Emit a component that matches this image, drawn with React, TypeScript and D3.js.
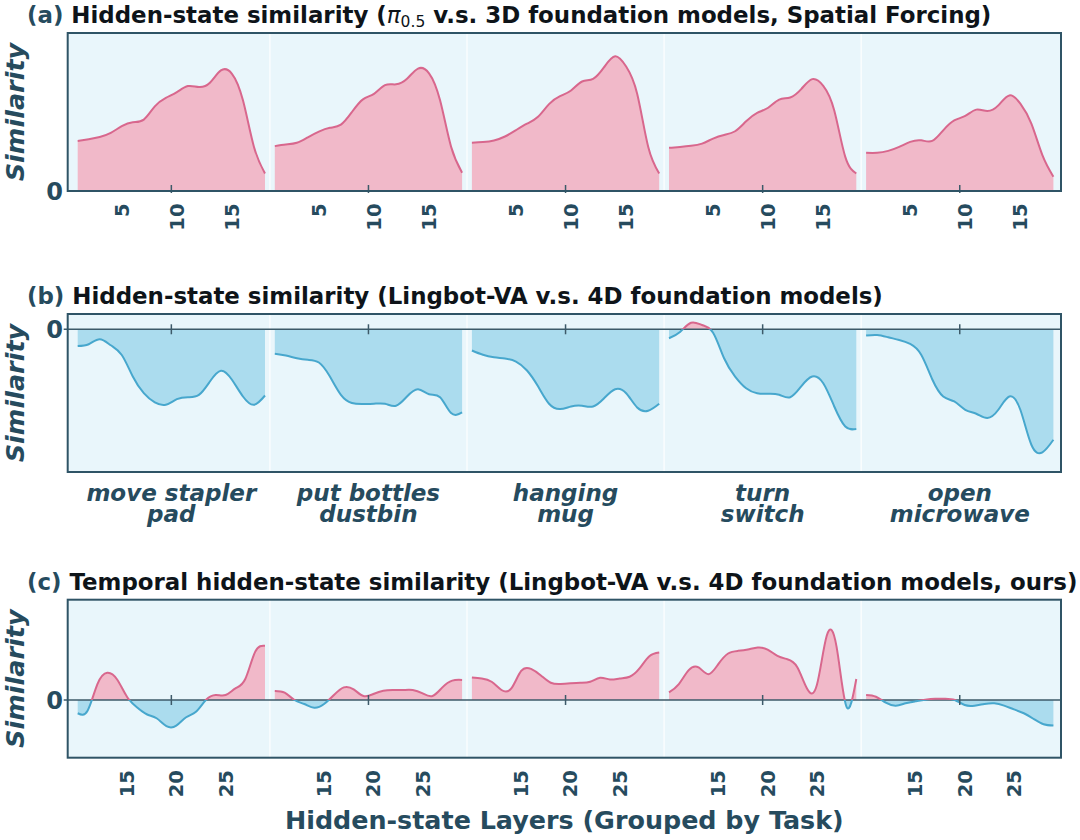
import React from "react";
import * as d3 from "d3";

// ---------- data ----------
const layersA = [1, 2, 3, 4, 5, 6, 7, 8, 9, 10, 11, 12, 13, 14, 15, 16, 17, 18];
const layersB = [1, 2, 3, 4, 5, 6, 7, 8, 9, 10, 11, 12, 13, 14, 15, 16, 17, 18];
const layersC = [10, 11, 12, 13, 14, 15, 16, 17, 18, 19, 20, 21, 22, 23, 24, 25, 26, 27, 28, 29];
const tickLayersA = [5, 10, 15];
const tickLayersC = [15, 20, 25];
const tasks = [
  ["move stapler", "pad"],
  ["put bottles", "dustbin"],
  ["hanging", "mug"],
  ["turn", "switch"],
  ["open", "microwave"],
];

// (a) pi0.5 vs 3D foundation models
const aMoveStapler = [0.317, 0.328, 0.342, 0.368, 0.41, 0.435, 0.452, 0.536, 0.59, 0.626, 0.664, 0.658, 0.685, 0.763, 0.742, 0.574, 0.279, 0.111];
const aPutBottles = [0.284, 0.294, 0.305, 0.34, 0.376, 0.4, 0.42, 0.5, 0.58, 0.615, 0.67, 0.675, 0.71, 0.775, 0.745, 0.574, 0.28, 0.116];
const aHangingMug = [0.305, 0.31, 0.32, 0.345, 0.385, 0.426, 0.47, 0.55, 0.6, 0.636, 0.693, 0.71, 0.784, 0.853, 0.788, 0.616, 0.28, 0.111];
const aTurnSwitch = [0.273, 0.279, 0.286, 0.3, 0.332, 0.355, 0.378, 0.441, 0.494, 0.527, 0.578, 0.592, 0.645, 0.708, 0.666, 0.51, 0.216, 0.111];
const aOpenMicrowave = [0.242, 0.242, 0.254, 0.279, 0.311, 0.321, 0.317, 0.384, 0.447, 0.475, 0.515, 0.506, 0.542, 0.605, 0.553, 0.426, 0.227, 0.09];

// (b) Lingbot-VA vs 4D foundation models
const bMoveStapler = [-0.117, -0.105, -0.07, -0.112, -0.18, -0.331, -0.448, -0.513, -0.529, -0.49, -0.476, -0.46, -0.366, -0.291, -0.354, -0.471, -0.529, -0.464];
const bPutBottles = [-0.172, -0.184, -0.203, -0.214, -0.233, -0.331, -0.459, -0.517, -0.524, -0.522, -0.522, -0.536, -0.471, -0.42, -0.455, -0.476, -0.587, -0.583];
const bHangingMug = [-0.149, -0.179, -0.196, -0.205, -0.226, -0.289, -0.4, -0.522, -0.559, -0.541, -0.536, -0.541, -0.483, -0.42, -0.448, -0.548, -0.571, -0.522];
const bTurnSwitch = [-0.063, -0.019, 0.046, 0.03, -0.024, -0.203, -0.331, -0.413, -0.448, -0.452, -0.459, -0.476, -0.4, -0.331, -0.378, -0.541, -0.681, -0.699];
const bOpenMicrowave = [-0.044, -0.04, -0.056, -0.075, -0.103, -0.179, -0.35, -0.471, -0.506, -0.564, -0.592, -0.622, -0.564, -0.471, -0.564, -0.809, -0.862, -0.774];

// (c) temporal similarity
const cMoveStapler = [-0.132, -0.106, 0.159, 0.272, 0.205, 0.033, -0.073, -0.142, -0.182, -0.26, -0.256, -0.172, -0.116, 0.0, 0.05, 0.05, 0.116, 0.21, 0.48, 0.54];
const cPutBottles = [0.09, 0.073, 0.0, -0.04, -0.077, -0.04, 0.05, 0.126, 0.106, 0.04, 0.06, 0.093, 0.1, 0.1, 0.1, 0.066, 0.04, 0.126, 0.193, 0.2];
const cHangingMug = [0.225, 0.215, 0.182, 0.1, 0.116, 0.29, 0.31, 0.245, 0.172, 0.159, 0.166, 0.172, 0.182, 0.222, 0.205, 0.215, 0.232, 0.315, 0.437, 0.474];
const cTurnSwitch = [0.076, 0.159, 0.298, 0.325, 0.258, 0.358, 0.464, 0.49, 0.503, 0.523, 0.503, 0.44, 0.407, 0.33, 0.115, 0.15, 0.64, 0.53, -0.066, 0.21];
const cOpenMicrowave = [0.05, 0.033, -0.026, -0.056, -0.033, -0.013, 0.003, 0.013, 0.013, 0.0, -0.05, -0.056, -0.04, -0.033, -0.056, -0.093, -0.132, -0.189, -0.242, -0.255];

const seriesA = [aMoveStapler, aPutBottles, aHangingMug, aTurnSwitch, aOpenMicrowave];
const seriesB = [bMoveStapler, bPutBottles, bHangingMug, bTurnSwitch, bOpenMicrowave];
const seriesC = [cMoveStapler, cPutBottles, cHangingMug, cTurnSwitch, cOpenMicrowave];

// ---------- style / layout ----------
const W = 1080;
const H = 840;
const FONT = "DejaVu Sans";
const SLATE = "#264b5e";
const FRAME_COLOR = "#2f5466";
const ZERO_COLOR = "#3d5a69";
const BG = "#e9f6fb";
const PINK_LINE = "#d8678d";
const PINK_FILL = "#f1b9c9";
const BLUE_LINE = "#47a7cd";
const BLUE_FILL = "#abdcee";

const FRAME_L = 67.7;
const FRAME_R = 1061;
const FILL_X0 = 77.7;
const GROUP_PITCH = 197.1;
const GROUP_SPAN = 187.3;
const FRAME_H = 158;

type PanelProps = {
  id: string;
  top: number;
  letter: string;
  title: React.ReactNode;
  series: number[][];
  layers: number[];
  yDomain: [number, number];
  layerTicks: number[] | null;
  tickIn: number;
  tickOut: number;
  showZeroLine: boolean;
  taskLabels: string[][] | null;
};

function Panel(p: PanelProps) {
  const bottom = p.top + FRAME_H;
  const y = d3.scaleLinear().domain(p.yDomain).range([bottom, p.top]);
  const y0 = y(0);
  const n = p.layers.length;
  const gap = (GROUP_PITCH - GROUP_SPAN) / 2;

  const groups = p.series.map((vals, g) => {
    const xs = d3
      .scaleLinear()
      .domain([p.layers[0], p.layers[n - 1]])
      .range([FILL_X0 + g * GROUP_PITCH, FILL_X0 + g * GROUP_PITCH + GROUP_SPAN]);
    const area = d3
      .area<number>()
      .x((_, i) => xs(p.layers[i]))
      .y0(y0)
      .y1((d) => y(d))
      .curve(d3.curveNatural);
    const line = d3
      .line<number>()
      .x((_, i) => xs(p.layers[i]))
      .y((d) => y(d))
      .curve(d3.curveNatural);
    return { xs, areaD: area(vals) || "", lineD: line(vals) || "" };
  });

  const posClip = `${p.id}-pos`;
  const negClip = `${p.id}-neg`;

  return (
    <g>
      <defs>
        <clipPath id={posClip}>
          <rect x={FRAME_L} y={p.top} width={FRAME_R - FRAME_L} height={y0 - p.top} />
        </clipPath>
        <clipPath id={negClip}>
          <rect x={FRAME_L} y={y0} width={FRAME_R - FRAME_L} height={bottom - y0} />
        </clipPath>
      </defs>
      {/* title */}
      <text x={27} y={p.top - 10} fontFamily={FONT} fontWeight="bold" fontSize={22.9} fill="#0e1419">
        <tspan fill={SLATE}>{p.letter}</tspan>
        {p.title}
      </text>
      {/* background */}
      <rect x={FRAME_L} y={p.top} width={FRAME_R - FRAME_L} height={FRAME_H} fill={BG} />
      {/* group separators */}
      {groups.slice(1).map((gr, i) => {
        const sx = gr.xs(p.layers[0]) - gap;
        return (
          <line key={`sep${i}`} x1={sx} x2={sx} y1={p.top} y2={bottom} stroke="#ffffff" strokeOpacity={0.75} strokeWidth={1.5} />
        );
      })}
      {/* fills */}
      {groups.map((gr, g) => (
        <g key={`f${g}`}>
          <path d={gr.areaD} fill={PINK_FILL} clipPath={`url(#${posClip})`} />
          <path d={gr.areaD} fill={BLUE_FILL} clipPath={`url(#${negClip})`} />
        </g>
      ))}
      {/* zero line */}
      {p.showZeroLine && (
        <line x1={FRAME_L - 4} x2={FRAME_R} y1={y0} y2={y0} stroke={ZERO_COLOR} strokeWidth={1.4} />
      )}
      {/* lines */}
      {groups.map((gr, g) => (
        <g key={`l${g}`}>
          <path d={gr.lineD} fill="none" stroke={PINK_LINE} strokeWidth={2} clipPath={`url(#${posClip})`} />
          <path d={gr.lineD} fill="none" stroke={BLUE_LINE} strokeWidth={2} clipPath={`url(#${negClip})`} />
        </g>
      ))}
      {/* group center ticks */}
      {groups.map((gr, g) => {
        const cx = gr.xs((p.layers[0] + p.layers[n - 1]) / 2);
        return (
          <line key={`t${g}`} x1={cx} x2={cx} y1={y0 - p.tickIn} y2={y0 + p.tickOut} stroke={ZERO_COLOR} strokeWidth={1.5} />
        );
      })}
      {/* frame */}
      <rect x={FRAME_L} y={p.top} width={FRAME_R - FRAME_L} height={FRAME_H} fill="none" stroke={FRAME_COLOR} strokeWidth={2} />
      {/* y tick label */}
      <text x={63} y={y0} dy="0.36em" textAnchor="end" fontFamily={FONT} fontWeight="bold" fontSize={24} fill={SLATE}>
        0
      </text>
      {/* y label */}
      <text
        transform={`translate(24,${p.top + FRAME_H / 2}) rotate(-90)`}
        textAnchor="middle"
        fontFamily={FONT}
        fontWeight="bold"
        fontStyle="italic"
        fontSize={25.5}
        fill={SLATE}
      >
        Similarity
      </text>
      {/* layer tick labels */}
      {p.layerTicks &&
        groups.map((gr, g) =>
          p.layerTicks!.map((t) => (
            <text
              key={`lt${g}-${t}`}
              transform={`translate(${gr.xs(t) + 7},${bottom + 12.5}) rotate(-90)`}
              textAnchor="end"
              fontFamily={FONT}
              fontWeight="bold"
              fontSize={19.5}
              fill={SLATE}
            >
              {t}
            </text>
          ))
        )}
      {/* task labels */}
      {p.taskLabels &&
        groups.map((gr, g) => {
          const cx = gr.xs((p.layers[0] + p.layers[n - 1]) / 2);
          return (
            <text key={`task${g}`} textAnchor="middle" fontFamily={FONT} fontWeight="bold" fontStyle="italic" fontSize={23} fill={SLATE}>
              <tspan x={cx} y={bottom + 29}>{p.taskLabels![g][0]}</tspan>
              <tspan x={cx} y={bottom + 49.5}>{p.taskLabels![g][1]}</tspan>
            </text>
          );
        })}
    </g>
  );
}

export default function App() {
  return (
    <svg
      width={W}
      height={H}
      viewBox={`0 0 ${W} ${H}`}
      style={{ display: "block", position: "absolute", left: 0, top: 0, background: "#ffffff" }}
    >
      <rect x={0} y={0} width={W} height={H} fill="#ffffff" />
      <Panel
        id="pa"
        top={33}
        letter="(a)"
        title={
          <>
            <tspan>{" Hidden-state similarity ("}</tspan>
            <tspan fontStyle="italic" fontWeight="normal">π</tspan>
            <tspan fontSize={15.5} fontWeight="normal" dy={4}>0.5</tspan>
            <tspan dy={-4}>{" v.s. 3D foundation models, Spatial Forcing)"}</tspan>
          </>
        }
        series={seriesA}
        layers={layersA}
        yDomain={[0, 1]}
        layerTicks={tickLayersA}
        tickIn={6}
        tickOut={2}
        showZeroLine={false}
        taskLabels={null}
      />
      <Panel
        id="pb"
        top={314}
        letter="(b)"
        title={<tspan>{" Hidden-state similarity (Lingbot-VA v.s. 4D foundation models)"}</tspan>}
        series={seriesB}
        layers={layersB}
        yDomain={[-1, 0.107]}
        layerTicks={null}
        tickIn={5}
        tickOut={5}
        showZeroLine={true}
        taskLabels={tasks}
      />
      <Panel
        id="pc"
        top={599.7}
        letter="(c)"
        title={<tspan>{" Temporal hidden-state similarity (Lingbot-VA v.s. 4D foundation models, ours)"}</tspan>}
        series={seriesC}
        layers={layersC}
        yDomain={[-0.575, 1]}
        layerTicks={tickLayersC}
        tickIn={5}
        tickOut={5}
        showZeroLine={true}
        taskLabels={null}
      />
      <text x={(FRAME_L + FRAME_R) / 2} y={829} textAnchor="middle" fontFamily={FONT} fontWeight="bold" fontSize={25.4} fill={SLATE}>
        Hidden-state Layers (Grouped by Task)
      </text>
    </svg>
  );
}
